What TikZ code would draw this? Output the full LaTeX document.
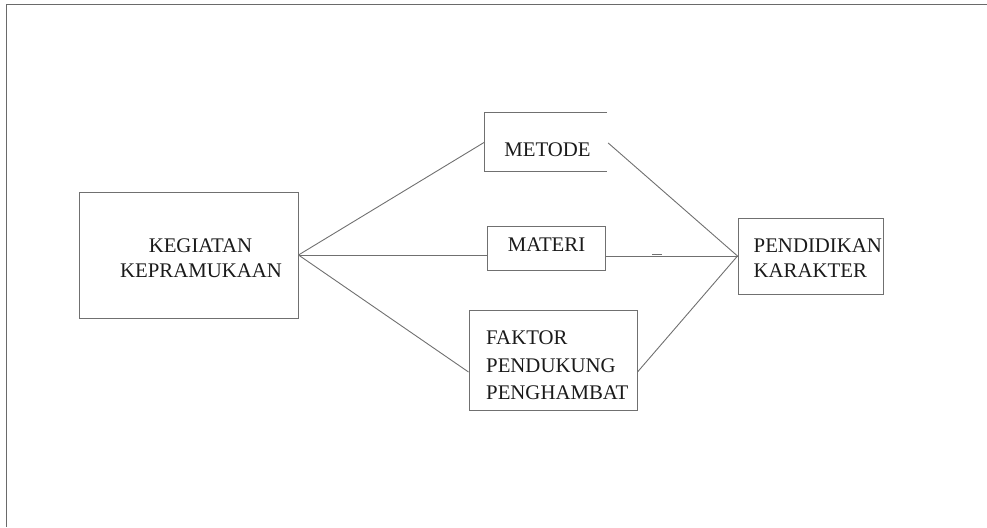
\documentclass[tikz,border=0pt]{standalone}
\usepackage{fontspec}
\setmainfont{Liberation Serif}
\usetikzlibrary{calc}
\definecolor{framegray}{HTML}{6A6A6A}
\definecolor{linegray}{HTML}{707070}
\definecolor{txt}{HTML}{1A1A1A}
\begin{document}
\begin{tikzpicture}[x=1pt,y=-1pt,
  box/.style={draw=linegray,line width=1pt,inner sep=0pt,minimum width=#1},
  conn/.style={draw=linegray,line width=0.9pt},
  lbl/.style={text=txt,inner sep=0pt,font=\fontsize{20.8}{25}\selectfont}]
\useasboundingbox (0,0) rectangle (987,527);
% outer frame (top and left)
\coordinate (fr1) at (987,4.5);
\coordinate (fr2) at (6.5,4.5);
\coordinate (fr3) at (6.5,527);
\draw[framegray,line width=1.5pt] (fr1) -- (fr2) -- (fr3);
% boxes
\node[box=219pt,minimum height=126pt] (k) at (188.5,255) {};
\node[inner sep=0pt,minimum width=122pt,minimum height=58pt] (m) at (546,142) {};
\draw[linegray,line width=1pt] (m.north east) -- (m.north west) -- (m.south west) -- (m.south east);
\node[box=118pt,minimum height=44pt] (mat) at (546,248) {};
\node[box=168pt,minimum height=100pt] (f) at (553,360) {};
\node[box=145pt,minimum height=76pt] (p) at (810.5,256) {};
% texts
\node[lbl,anchor=base] (k1) at (200.5,252) {KEGIATAN};
\node[lbl,anchor=base] (k2) at (201,277) {KEPRAMUKAAN};
\node[lbl,anchor=base] (mt) at (547.5,156) {METODE};
\node[lbl,anchor=base] (ma) at (546.5,251.5) {MATERI};
\node[lbl,anchor=base west] (f1) at (486,344.5) {FAKTOR};
\node[lbl,anchor=base west] (f2) at (486,372) {PENDUKUNG};
\node[lbl,anchor=base west] (f3) at (486,399.5) {PENGHAMBAT};
\node[lbl,anchor=base west] (p1) at (753.5,252) {PENDIDIKAN};
\node[lbl,anchor=base west] (p2) at (753.5,277) {KARAKTER};
% connectors
\coordinate (fl) at ($(f.west)+(0,12)$);
\coordinate (fr) at ($(f.east)+(0,12)$);
\coordinate (mr) at ($(m.east)+(1,1)$);
\draw[conn] (k.east) -- (m.west);
\draw[conn] (k.east) -- (k.east -| mat.west);
\draw[conn] (k.east) -- (fl);
\draw[conn] (mr) -- (p.west);
\draw[conn] (p.west -| mat.east) -- (p.west);
\draw[conn] (fr) -- (p.west);
\coordinate (d1) at (652,254.3);
\coordinate (d2) at (662,254.3);
\draw[conn,line width=1.2pt] (d1) -- (d2);
\end{tikzpicture}
\end{document}
